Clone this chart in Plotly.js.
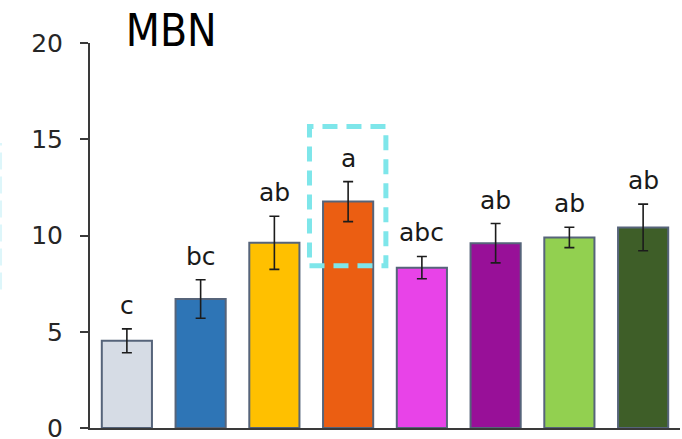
<!DOCTYPE html>
<html>
<head>
<meta charset="utf-8">
<script src="https://cdn.plot.ly/plotly-3.0.1.min.js"></script>
<style>
  html, body { margin: 0; padding: 0; background: #ffffff; }
  #chart { width: 682px; height: 439px; }
</style>
</head>
<body>
<div id="chart"></div>
<script>
// Treatments (unlabelled on the axis) and their MBN means with standard errors
const treatments = ["T1", "T2", "T3", "T4", "T5", "T6", "T7", "T8"];
const mbnMeans = [4.53, 6.70, 9.62, 11.76, 8.33, 9.60, 9.90, 10.42];
const mbnErrors = [0.62, 1.00, 1.38, 1.04, 0.58, 1.02, 0.53, 1.21];
const letters = ["c", "bc", "ab", "a", "abc", "ab", "ab", "ab"];
const barColors = ["#D6DCE5", "#2E75B6", "#FFC000", "#EB5E12",
                   "#E843E8", "#981098", "#92D050", "#3E5E28"];
const highlighted = 3;

const axisColor = "#3a3a3a";
const tickFont = { family: "DejaVu Sans, Arial, sans-serif", size: 25, color: "#262626" };

const bars = {
  type: "bar",
  x: treatments,
  y: mbnMeans,
  marker: {
    color: barColors,
    line: { color: "#56647a", width: 2 }
  },
  error_y: {
    type: "data",
    array: mbnErrors,
    visible: true,
    color: "#1c1c1c",
    thickness: 1.6,
    width: 5
  },
  hoverinfo: "skip"
};

// significance letters sit just above each error bar
const letterNotes = treatments.map((t, i) => ({
  x: t,
  y: mbnMeans[i] + mbnErrors[i],
  xref: "x", yref: "y",
  text: letters[i],
  showarrow: false,
  yanchor: "bottom",
  yshift: 7,
  font: { family: "DejaVu Sans, Arial, sans-serif", size: 25, color: "#1a1a1a" }
}));

// dashed highlight around the top-ranked treatment
const hi = highlighted;
const shapes = [
  {
    type: "rect",
    xref: "x", yref: "y",
    x0: hi - 0.524, x1: hi + 0.512,
    y0: 8.43, y1: 15.66,
    line: { color: "#7EE6EA", width: 5, dash: "15px,9px" },
    fillcolor: "rgba(0,0,0,0)"
  },
  {
    type: "line",
    xref: "paper", yref: "paper",
    x0: -0.1508, x1: -0.1508,
    y0: 0.36, y1: 0.74,
    line: { color: "#DDF6FA", width: 2, dash: "17px,7px" }
  }
];

const layout = {
  width: 682,
  height: 439,
  margin: { l: 90, r: 2, t: 43, b: 11, pad: 0 },
  paper_bgcolor: "#ffffff",
  plot_bgcolor: "#ffffff",
  showlegend: false,
  bargap: 0.32,
  title: {
    text: "MBN",
    font: { family: "DejaVu Sans Condensed, Roboto, sans-serif", size: 44, weight: 300, color: "#000000" },
    xref: "container", yref: "container",
    x: 0.251, xanchor: "center",
    y: 0.966, yanchor: "top"
  },
  xaxis: {
    type: "category",
    range: [-0.5, 7.5],
    showticklabels: false,
    ticks: "",
    showline: true,
    linecolor: axisColor,
    linewidth: 2,
    showgrid: false,
    zeroline: false,
    fixedrange: true
  },
  yaxis: {
    range: [0, 20],
    dtick: 5,
    tick0: 0,
    ticks: "outside",
    ticklen: 8,
    tickwidth: 2,
    tickcolor: axisColor,
    ticklabelstandoff: 12,
    ticklabeloverflow: "allow",
    tickfont: tickFont,
    showline: true,
    linecolor: axisColor,
    linewidth: 2,
    showgrid: false,
    zeroline: false,
    fixedrange: true
  },
  annotations: letterNotes,
  shapes: shapes
};

Plotly.newPlot("chart", [bars], layout, { displayModeBar: false, staticPlot: true });
</script>
</body>
</html>
